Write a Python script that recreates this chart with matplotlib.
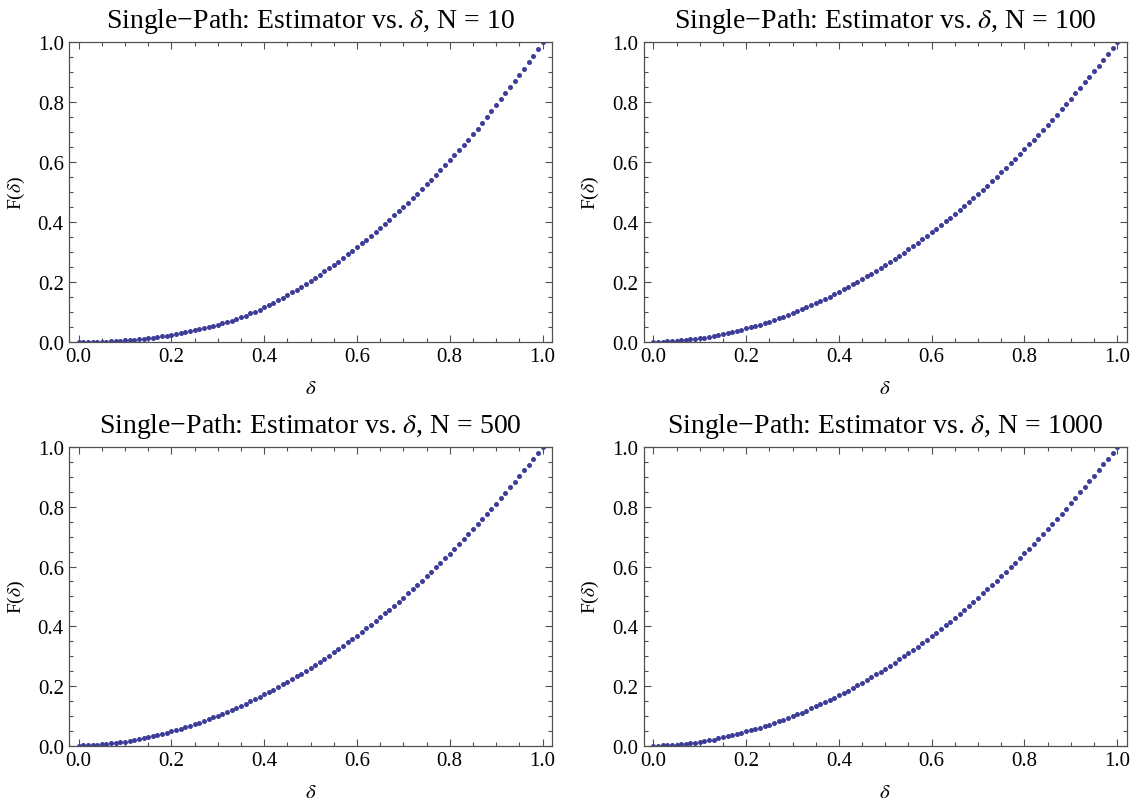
import matplotlib
matplotlib.use('Agg')
import matplotlib.pyplot as plt
from matplotlib.ticker import MultipleLocator, FormatStrFormatter

plt.rcParams['font.family'] = ['Liberation Serif', 'DejaVu Serif']
plt.rcParams['mathtext.fontset'] = 'stix'

# delta grid (step 0.01)
delta = [0.00, 0.01, 0.02, 0.03, 0.04, 0.05, 0.06, 0.07, 0.08, 0.09,
         0.10, 0.11, 0.12, 0.13, 0.14, 0.15, 0.16, 0.17, 0.18, 0.19,
         0.20, 0.21, 0.22, 0.23, 0.24, 0.25, 0.26, 0.27, 0.28, 0.29,
         0.30, 0.31, 0.32, 0.33, 0.34, 0.35, 0.36, 0.37, 0.38, 0.39,
         0.40, 0.41, 0.42, 0.43, 0.44, 0.45, 0.46, 0.47, 0.48, 0.49,
         0.50, 0.51, 0.52, 0.53, 0.54, 0.55, 0.56, 0.57, 0.58, 0.59,
         0.60, 0.61, 0.62, 0.63, 0.64, 0.65, 0.66, 0.67, 0.68, 0.69,
         0.70, 0.71, 0.72, 0.73, 0.74, 0.75, 0.76, 0.77, 0.78, 0.79,
         0.80, 0.81, 0.82, 0.83, 0.84, 0.85, 0.86, 0.87, 0.88, 0.89,
         0.90, 0.91, 0.92, 0.93, 0.94, 0.95, 0.96, 0.97, 0.98, 0.99,
         1.00]

# F(delta), N = 10
f_n10 = [0.000, 0.000, 0.000, 0.000, 0.001, 0.001, 0.001, 0.002, 0.003, 0.003,
         0.005, 0.006, 0.007, 0.009, 0.010, 0.012, 0.014, 0.016, 0.019, 0.021,
         0.024, 0.027, 0.029, 0.032, 0.035, 0.038, 0.042, 0.045, 0.049, 0.053,
         0.057, 0.062, 0.067, 0.071, 0.077, 0.082, 0.088, 0.095, 0.101, 0.108,
         0.115, 0.123, 0.131, 0.139, 0.147, 0.156, 0.165, 0.174, 0.184, 0.194,
         0.204, 0.214, 0.224, 0.235, 0.246, 0.257, 0.268, 0.280, 0.292, 0.304,
         0.317, 0.329, 0.341, 0.354, 0.367, 0.380, 0.394, 0.408, 0.422, 0.436,
         0.451, 0.465, 0.480, 0.495, 0.510, 0.526, 0.541, 0.557, 0.573, 0.590,
         0.606, 0.623, 0.640, 0.658, 0.675, 0.694, 0.712, 0.731, 0.750, 0.770,
         0.790, 0.810, 0.830, 0.850, 0.870, 0.892, 0.912, 0.934, 0.956, 0.978,
         1.000]

# F(delta), N = 100
f_n100 = [0.000, 0.000, 0.001, 0.002, 0.002, 0.004, 0.005, 0.006, 0.008, 0.010,
          0.012, 0.014, 0.017, 0.020, 0.023, 0.026, 0.029, 0.033, 0.037, 0.041,
          0.045, 0.049, 0.054, 0.058, 0.063, 0.068, 0.073, 0.079, 0.084, 0.090,
          0.096, 0.102, 0.109, 0.115, 0.122, 0.129, 0.136, 0.144, 0.151, 0.159,
          0.167, 0.175, 0.183, 0.192, 0.201, 0.210, 0.219, 0.228, 0.237, 0.247,
          0.257, 0.267, 0.277, 0.288, 0.298, 0.309, 0.320, 0.331, 0.343, 0.354,
          0.366, 0.378, 0.390, 0.402, 0.415, 0.428, 0.440, 0.454, 0.467, 0.480,
          0.494, 0.508, 0.522, 0.537, 0.551, 0.566, 0.581, 0.596, 0.612, 0.627,
          0.643, 0.659, 0.675, 0.692, 0.708, 0.725, 0.742, 0.759, 0.777, 0.794,
          0.812, 0.830, 0.848, 0.866, 0.885, 0.904, 0.922, 0.942, 0.961, 0.980,
          1.000]

# F(delta), N = 500
f_n500 = [0.000, 0.001, 0.001, 0.002, 0.003, 0.005, 0.006, 0.008, 0.010, 0.012,
          0.014, 0.017, 0.019, 0.022, 0.025, 0.029, 0.032, 0.036, 0.040, 0.044,
          0.048, 0.052, 0.057, 0.062, 0.067, 0.072, 0.077, 0.083, 0.089, 0.095,
          0.101, 0.107, 0.114, 0.120, 0.127, 0.134, 0.141, 0.149, 0.156, 0.164,
          0.172, 0.180, 0.188, 0.197, 0.206, 0.215, 0.224, 0.233, 0.242, 0.252,
          0.262, 0.272, 0.282, 0.292, 0.302, 0.313, 0.324, 0.335, 0.346, 0.357,
          0.369, 0.381, 0.393, 0.405, 0.417, 0.430, 0.443, 0.456, 0.469, 0.482,
          0.496, 0.510, 0.524, 0.538, 0.552, 0.567, 0.582, 0.597, 0.612, 0.627,
          0.643, 0.659, 0.675, 0.691, 0.708, 0.725, 0.741, 0.759, 0.776, 0.793,
          0.811, 0.829, 0.847, 0.866, 0.884, 0.903, 0.922, 0.941, 0.961, 0.980,
          1.000]

# F(delta), N = 1000
f_n1000 = [0.000, 0.000, 0.001, 0.002, 0.003, 0.004, 0.005, 0.007, 0.009, 0.011,
           0.013, 0.016, 0.018, 0.021, 0.025, 0.028, 0.032, 0.035, 0.039, 0.044,
           0.048, 0.052, 0.057, 0.061, 0.066, 0.071, 0.076, 0.082, 0.087, 0.093,
           0.099, 0.105, 0.111, 0.118, 0.125, 0.132, 0.139, 0.146, 0.153, 0.161,
           0.169, 0.177, 0.185, 0.194, 0.202, 0.211, 0.220, 0.229, 0.239, 0.248,
           0.258, 0.268, 0.278, 0.289, 0.299, 0.310, 0.321, 0.332, 0.344, 0.355,
           0.367, 0.379, 0.391, 0.404, 0.416, 0.429, 0.442, 0.455, 0.469, 0.482,
           0.496, 0.510, 0.524, 0.538, 0.553, 0.568, 0.582, 0.598, 0.613, 0.628,
           0.644, 0.660, 0.676, 0.692, 0.709, 0.726, 0.742, 0.760, 0.777, 0.794,
           0.812, 0.830, 0.848, 0.866, 0.885, 0.904, 0.922, 0.942, 0.961, 0.980,
           1.000]

n_values = [10, 100, 500, 1000]
series = [f_n10, f_n100, f_n500, f_n1000]

dot_color = '#3d3d99'
frame_color = '#505050'

fig = plt.figure(figsize=(11.46, 8.03), dpi=100)

# axes boxes [left, bottom, width, height] in figure fractions
boxes = [[0.0605, 0.573, 0.421, 0.373],
         [0.562, 0.573, 0.421, 0.373],
         [0.0605, 0.070, 0.421, 0.372],
         [0.562, 0.070, 0.421, 0.372]]

for box, n, vals in zip(boxes, n_values, series):
	ax = fig.add_axes(box)
	ax.plot(delta, vals, 'o', color=dot_color, markersize=3.6,
	        markeredgewidth=0)
	ax.set_xlim(-0.02, 1.02)
	ax.set_ylim(0, 1)

	ax.set_title('Single\u2212Path: Estimator vs. $\\delta$, N = %d' % n,
	             fontsize=20, pad=11)
	ax.set_xlabel('$\\delta$', fontsize=15, labelpad=9)
	ax.set_ylabel('F($\\delta$)', fontsize=14, labelpad=8)

	ax.xaxis.set_major_locator(MultipleLocator(0.2))
	ax.xaxis.set_minor_locator(MultipleLocator(0.05))
	ax.yaxis.set_major_locator(MultipleLocator(0.2))
	ax.yaxis.set_minor_locator(MultipleLocator(0.05))
	ax.xaxis.set_major_formatter(FormatStrFormatter('%.1f'))
	ax.yaxis.set_major_formatter(FormatStrFormatter('%.1f'))

	ax.tick_params(which='both', direction='in', top=True, right=True,
	               color=frame_color, width=0.8, labelsize=15, pad=4)
	ax.tick_params(which='major', length=5)
	ax.tick_params(which='minor', length=3)
	for s in ax.spines.values():
		s.set_color(frame_color)
		s.set_linewidth(0.9)

plt.savefig('out.png', dpi=100)
